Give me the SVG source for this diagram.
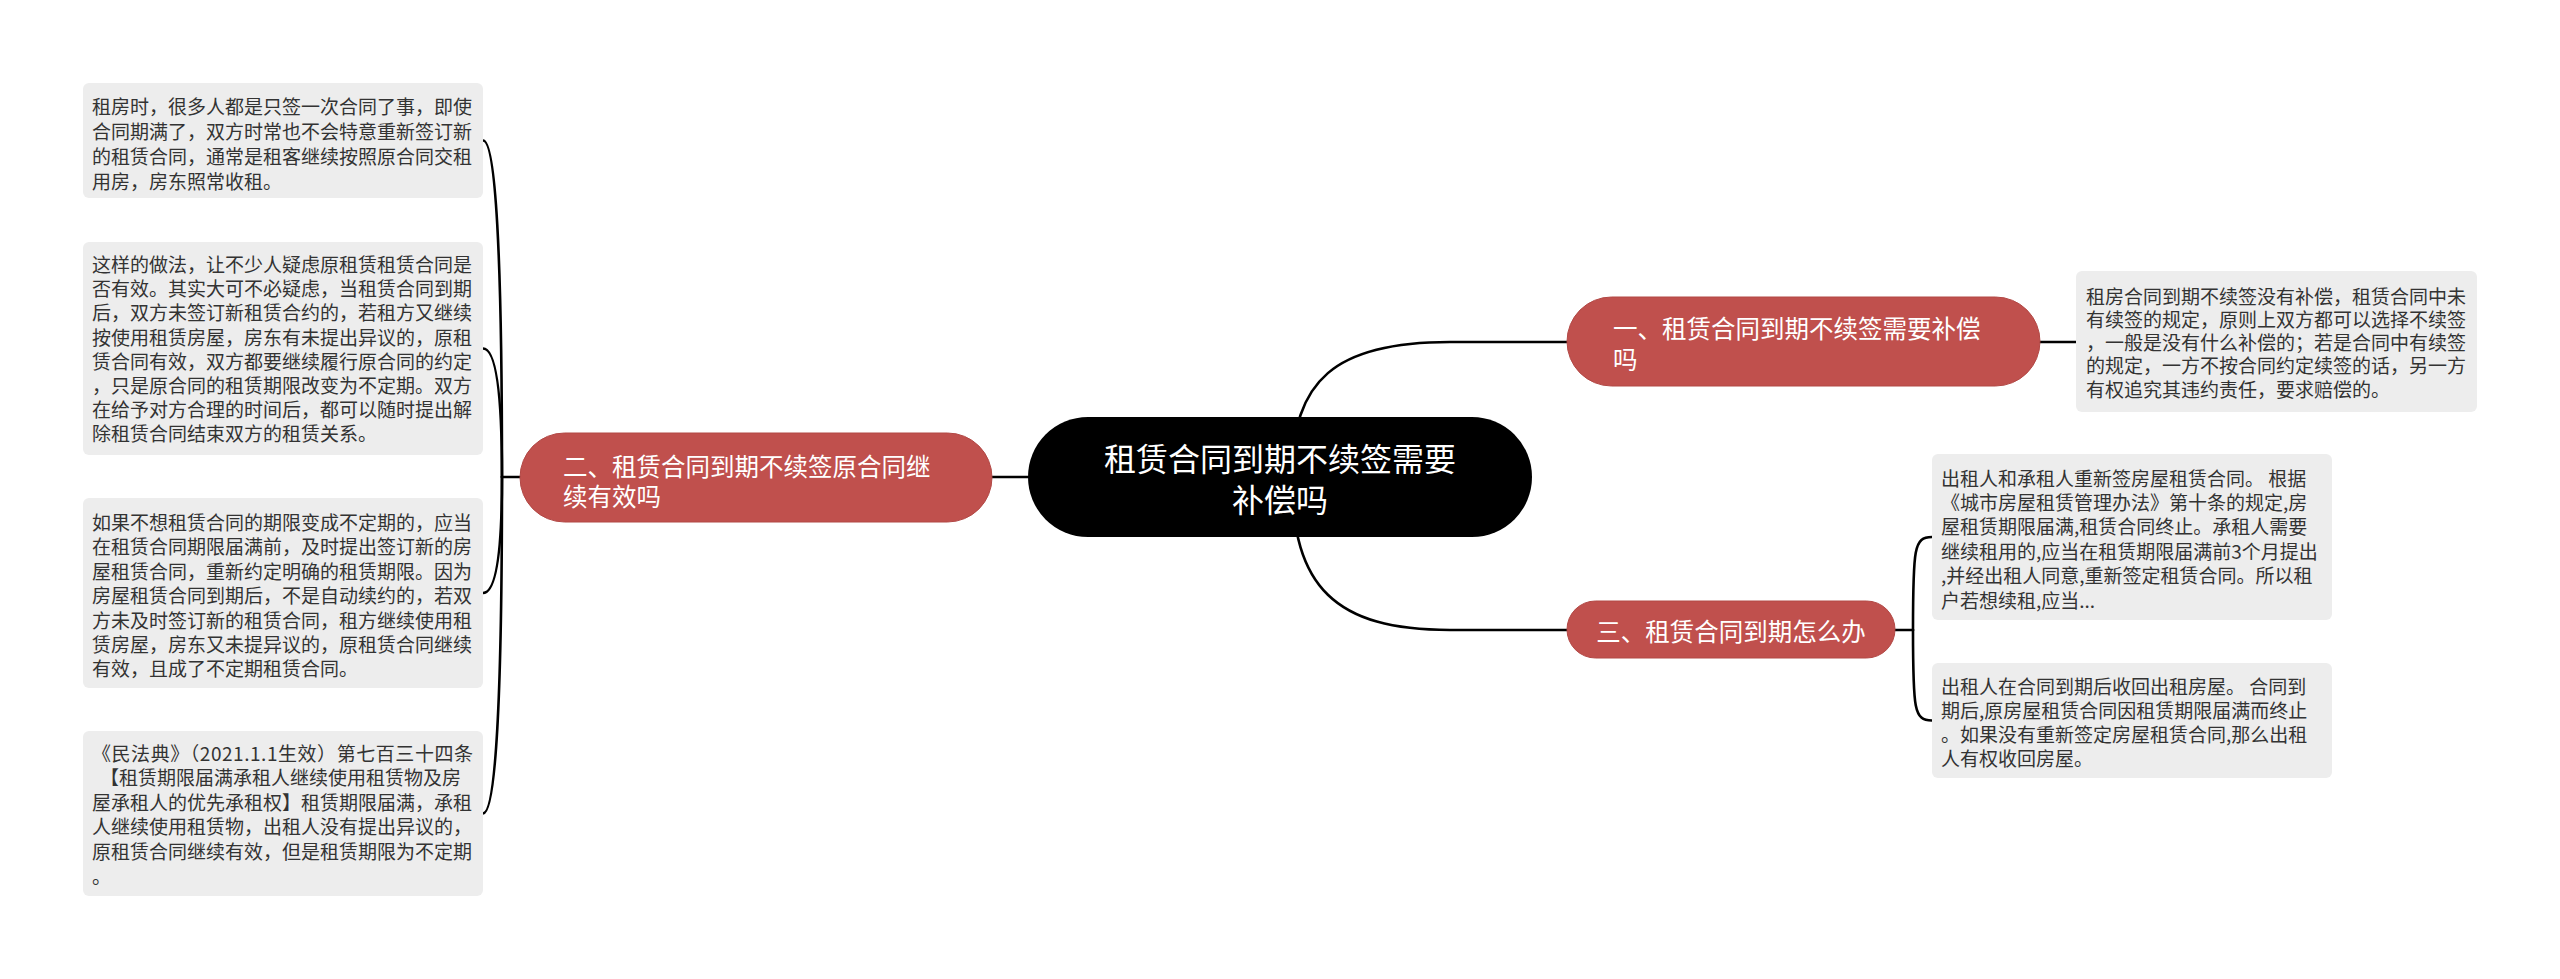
<svg xmlns="http://www.w3.org/2000/svg" width="2560" height="979" viewBox="0 0 2560 979">
<defs>
<style>
.bg{fill:#ffffff}
.conn{fill:none;stroke:#000000;stroke-width:2.6;stroke-linecap:round}
.leaf rect{fill:#EDEDED}
.leaf text{font-family:"Noto Sans CJK SC","Noto Sans",sans-serif;font-size:19px;fill:#333333;dominant-baseline:central}
.sub rect{fill:#C0504D;stroke:#B24845;stroke-width:1}
.sub text{font-family:"Noto Sans CJK SC","Noto Sans",sans-serif;font-size:24.5px;fill:#ffffff;dominant-baseline:central}
.root rect{fill:#000000}
.root text{font-family:"Noto Sans CJK SC","Noto Sans",sans-serif;font-size:32px;fill:#ffffff;dominant-baseline:central;text-anchor:middle}
</style>
</defs>
<rect class="bg" x="0" y="0" width="2560" height="979"/>

<g id="connectors">
  <path class="conn" d="M 992 477 L 1028 477"/>
  <path class="conn" d="M 1292 477 C 1292 380, 1335 342, 1450 342 L 1567 342"/>
  <path class="conn" d="M 1292 477 C 1292 587, 1335 630, 1450 630 L 1567 630"/>
  <path class="conn" d="M 520 477 L 502 477"/>
  <path class="conn" d="M 502 477 Q 502 140.5 483 140.5"/>
  <path class="conn" d="M 502 477 Q 502 348.5 483 348.5"/>
  <path class="conn" d="M 502 477 Q 502 593 483 593"/>
  <path class="conn" d="M 502 477 Q 502 813.5 483 813.5"/>
  <path class="conn" d="M 2040 342 L 2076 342"/>
  <path class="conn" d="M 1895 630 L 1913 630"/>
  <path class="conn" d="M 1913 630 C 1913 548, 1914 537, 1932 537"/>
  <path class="conn" d="M 1913 630 C 1913 710, 1914 720.5, 1932 720.5"/>
</g>

<g id="root" class="root">
  <rect x="1028" y="417" width="504" height="120" rx="60" ry="60"/>
  <text x="1280" y="457">租赁合同到期不续签需要</text>
  <text x="1280" y="498">补偿吗</text>
</g>

<g id="node-1" class="sub">
  <rect x="1567" y="297" width="473" height="89" rx="44.5" ry="44.5"/>
  <text x="1613" y="327">一、租赁合同到期不续签需要补偿</text>
  <text x="1613" y="358">吗</text>
</g>

<g id="node-2" class="sub">
  <rect x="520" y="433" width="472" height="89" rx="44.5" ry="44.5"/>
  <text x="563" y="465">二、租赁合同到期不续签原合同继</text>
  <text x="563" y="495">续有效吗</text>
</g>

<g id="node-3" class="sub">
  <rect x="1567" y="601" width="328" height="57" rx="28.5" ry="28.5"/>
  <text x="1731" y="630" text-anchor="middle">三、租赁合同到期怎么办</text>
</g>

<g id="leaf-1a" class="leaf">
  <rect x="2076" y="271" width="401" height="141" rx="6" ry="6"/>
  <text x="2086" y="295">租房合同到期不续签没有补偿，租赁合同中未</text>
  <text x="2086" y="318.3">有续签的规定，原则上双方都可以选择不续签</text>
  <text x="2086" y="341.6">，一般是没有什么补偿的；若是合同中有续签</text>
  <text x="2086" y="364.9">的规定，一方不按合同约定续签的话，另一方</text>
  <text x="2086" y="388.2">有权追究其违约责任，要求赔偿的。</text>
</g>

<g id="leaf-2a" class="leaf">
  <rect x="83" y="83" width="400" height="115" rx="6" ry="6"/>
  <text x="92" y="105">租房时，很多人都是只签一次合同了事，即使</text>
  <text x="92" y="130.5">合同期满了，双方时常也不会特意重新签订新</text>
  <text x="92" y="155.5">的租赁合同，通常是租客继续按照原合同交租</text>
  <text x="92" y="180.5">用房，房东照常收租。</text>
</g>

<g id="leaf-2b" class="leaf">
  <rect x="83" y="242" width="400" height="213" rx="6" ry="6"/>
  <text x="92" y="263.5">这样的做法，让不少人疑虑原租赁租赁合同是</text>
  <text x="92" y="287.7">否有效。其实大可不必疑虑，当租赁合同到期</text>
  <text x="92" y="311.9">后，双方未签订新租赁合约的，若租方又继续</text>
  <text x="92" y="336.1">按使用租赁房屋，房东有未提出异议的，原租</text>
  <text x="92" y="360.3">赁合同有效，双方都要继续履行原合同的约定</text>
  <text x="92" y="384.5">，只是原合同的租赁期限改变为不定期。双方</text>
  <text x="92" y="408.7">在给予对方合理的时间后，都可以随时提出解</text>
  <text x="92" y="432.9">除租赁合同结束双方的租赁关系。</text>
</g>

<g id="leaf-2c" class="leaf">
  <rect x="83" y="498" width="400" height="190" rx="6" ry="6"/>
  <text x="92" y="521.5">如果不想租赁合同的期限变成不定期的，应当</text>
  <text x="92" y="545.9">在租赁合同期限届满前，及时提出签订新的房</text>
  <text x="92" y="570.3">屋租赁合同，重新约定明确的租赁期限。因为</text>
  <text x="92" y="594.7">房屋租赁合同到期后，不是自动续约的，若双</text>
  <text x="92" y="619.1">方未及时签订新的租赁合同，租方继续使用租</text>
  <text x="92" y="643.5">赁房屋，房东又未提异议的，原租赁合同继续</text>
  <text x="92" y="667.9">有效，且成了不定期租赁合同。</text>
</g>

<g id="leaf-2d" class="leaf">
  <rect x="83" y="731" width="400" height="165" rx="6" ry="6"/>
  <text x="92" y="752" textLength="381" lengthAdjust="spacing">《民法典》（2021.1.1生效）第七百三十四条</text>
  <text x="100" y="776.6">【租赁期限届满承租人继续使用租赁物及房</text>
  <text x="92" y="801.2">屋承租人的优先承租权】租赁期限届满，承租</text>
  <text x="92" y="825.8">人继续使用租赁物，出租人没有提出异议的，</text>
  <text x="92" y="850.4">原租赁合同继续有效，但是租赁期限为不定期</text>
  <text x="92" y="875">。</text>
</g>

<g id="leaf-3a" class="leaf">
  <rect x="1932" y="454" width="400" height="166" rx="6" ry="6"/>
  <text x="1941" y="477">出租人和承租人重新签房屋租赁合同。 根据</text>
  <text x="1941" y="501.4">《城市房屋租赁管理办法》第十条的规定,房</text>
  <text x="1941" y="525.8">屋租赁期限届满,租赁合同终止。承租人需要</text>
  <text x="1941" y="550.2">继续租用的,应当在租赁期限届满前3个月提出</text>
  <text x="1941" y="574.6">,并经出租人同意,重新签定租赁合同。所以租</text>
  <text x="1941" y="599">户若想续租,应当...</text>
</g>

<g id="leaf-3b" class="leaf">
  <rect x="1932" y="663" width="400" height="115" rx="6" ry="6"/>
  <text x="1941" y="685">出租人在合同到期后收回出租房屋。 合同到</text>
  <text x="1941" y="709.3">期后,原房屋租赁合同因租赁期限届满而终止</text>
  <text x="1941" y="733.6">。如果没有重新签定房屋租赁合同,那么出租</text>
  <text x="1941" y="757.9">人有权收回房屋。</text>
</g>
</svg>
